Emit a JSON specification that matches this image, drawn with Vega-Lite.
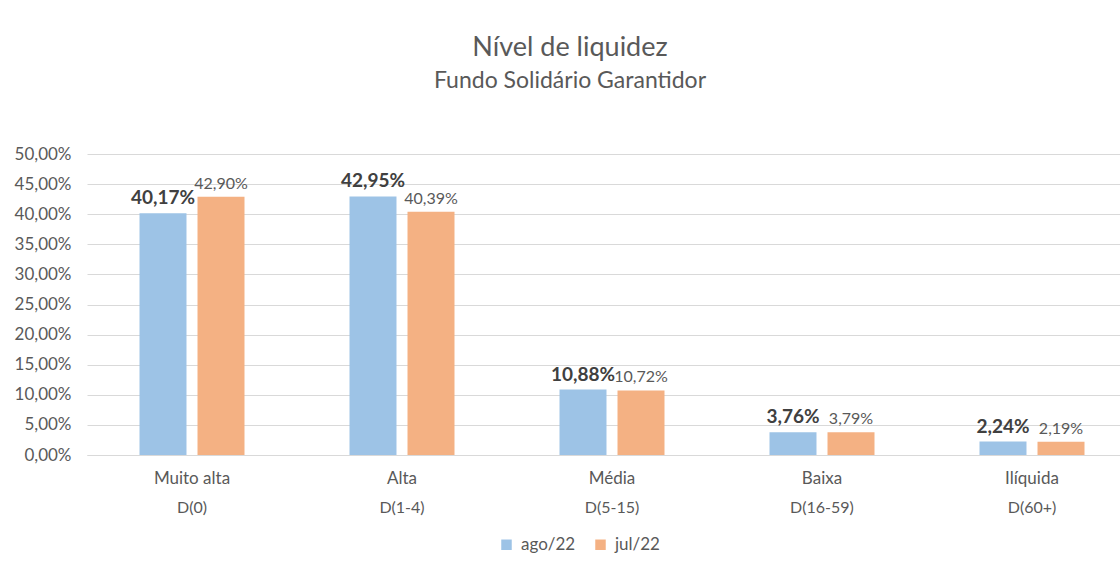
{
  "$schema": "https://vega.github.io/schema/vega-lite/v6.json",
  "width": 1050,
  "height": 301,
  "autosize": {"type": "none"},
  "padding": {"left": 87, "top": 154, "right": 0, "bottom": 111},
  "background": "white",
  "config": {
    "locale": {"number": {"decimal": ",", "thousands": ".", "grouping": [3], "currency": ["R$", ""]}},
    "font": "Lato",
    "view": {"stroke": null}
  },
  "title": {
    "text": "Nível de liquidez",
    "subtitle": "Fundo Solidário Garantidor",
    "fontSize": 27,
    "fontWeight": "normal",
    "color": "#595959",
    "subtitleFontSize": 23,
    "subtitleColor": "#595959",
    "subtitlePadding": 8,
    "anchor": "middle",
    "dx": -42,
    "offset": 51
  },
  "data": {
    "values": [
      {"nivel": "Muito alta", "prazo": "D(0)", "serie": "ago/22", "valor": 0.4017},
      {"nivel": "Muito alta", "prazo": "D(0)", "serie": "jul/22", "valor": 0.4290},
      {"nivel": "Alta", "prazo": "D(1-4)", "serie": "ago/22", "valor": 0.4295},
      {"nivel": "Alta", "prazo": "D(1-4)", "serie": "jul/22", "valor": 0.4039},
      {"nivel": "Média", "prazo": "D(5-15)", "serie": "ago/22", "valor": 0.1088},
      {"nivel": "Média", "prazo": "D(5-15)", "serie": "jul/22", "valor": 0.1072},
      {"nivel": "Baixa", "prazo": "D(16-59)", "serie": "ago/22", "valor": 0.0376},
      {"nivel": "Baixa", "prazo": "D(16-59)", "serie": "jul/22", "valor": 0.0379},
      {"nivel": "Ilíquida", "prazo": "D(60+)", "serie": "ago/22", "valor": 0.0224},
      {"nivel": "Ilíquida", "prazo": "D(60+)", "serie": "jul/22", "valor": 0.0219}
    ]
  },
  "encoding": {
    "xOffset": {"field": "serie", "type": "nominal", "sort": ["ago/22", "jul/22"], "scale": {"paddingInner": 0.19}},
    "y": {
      "field": "valor", "type": "quantitative",
      "scale": {"domain": [0, 0.5]},
      "axis": {"title": null, "format": ".2%", "values": [0, 0.05, 0.1, 0.15, 0.2, 0.25, 0.3, 0.35, 0.4, 0.45, 0.5], "labelOverlap": false, "grid": true, "gridColor": "#D9D9D9", "gridWidth": 1, "domain": false, "ticks": false, "labelFontSize": 17, "labelColor": "#595959", "labelPadding": 16}
    }
  },
  "resolve": {"axis": {"x": "independent"}},
  "layer": [
    {
      "mark": {"type": "bar"},
      "encoding": {
        "x": {
          "field": "nivel", "type": "nominal",
          "sort": ["Muito alta", "Alta", "Média", "Baixa", "Ilíquida"],
          "scale": {"paddingInner": 0.5, "paddingOuter": 0.25},
          "axis": {"orient": "bottom", "title": null, "labelAngle": 0, "labelFontSize": 17, "labelColor": "#595959", "labelPadding": 15, "ticks": false, "domain": true, "domainColor": "#D9D9D9", "domainWidth": 1}
        },
        "color": {
          "field": "serie", "type": "nominal",
          "scale": {"domain": ["ago/22", "jul/22"], "range": ["#9DC3E6", "#F4B183"]},
          "legend": {"title": null, "orient": "none", "direction": "horizontal", "legendX": 411, "legendY": 382, "symbolType": "square", "symbolSize": 110, "symbolStrokeWidth": 0, "labelFontSize": 17, "labelColor": "#595959", "columnPadding": 16, "labelOffset": 6}
        }
      }
    },
    {
      "transform": [{"filter": "datum.serie === 'ago/22'"}],
      "mark": {"type": "text", "baseline": "bottom", "dy": -5, "fontSize": 19, "fontWeight": "bold", "color": "#404040"},
      "encoding": {
        "x": {
          "field": "nivel", "type": "nominal",
          "sort": ["Muito alta", "Alta", "Média", "Baixa", "Ilíquida"],
          "scale": {"paddingInner": 0.5, "paddingOuter": 0.25},
          "axis": {"orient": "bottom", "title": null, "labelAngle": 0, "labelFontSize": 16, "labelColor": "#595959", "labelPadding": 44, "ticks": false, "domain": false, "labelExpr": "{'Muito alta': 'D(0)', 'Alta': 'D(1-4)', 'Média': 'D(5-15)', 'Baixa': 'D(16-59)', 'Ilíquida': 'D(60+)'}[datum.label]"}
        },
        "text": {"field": "valor", "type": "quantitative", "format": ".2%"}
      }
    },
    {
      "transform": [{"filter": "datum.serie === 'jul/22'"}],
      "mark": {"type": "text", "baseline": "bottom", "dy": -5, "fontSize": 16, "color": "#595959"},
      "encoding": {
        "x": {
          "field": "nivel", "type": "nominal",
          "sort": ["Muito alta", "Alta", "Média", "Baixa", "Ilíquida"],
          "scale": {"paddingInner": 0.5, "paddingOuter": 0.25},
          "axis": null
        },
        "text": {"field": "valor", "type": "quantitative", "format": ".2%"}
      }
    }
  ]
}
